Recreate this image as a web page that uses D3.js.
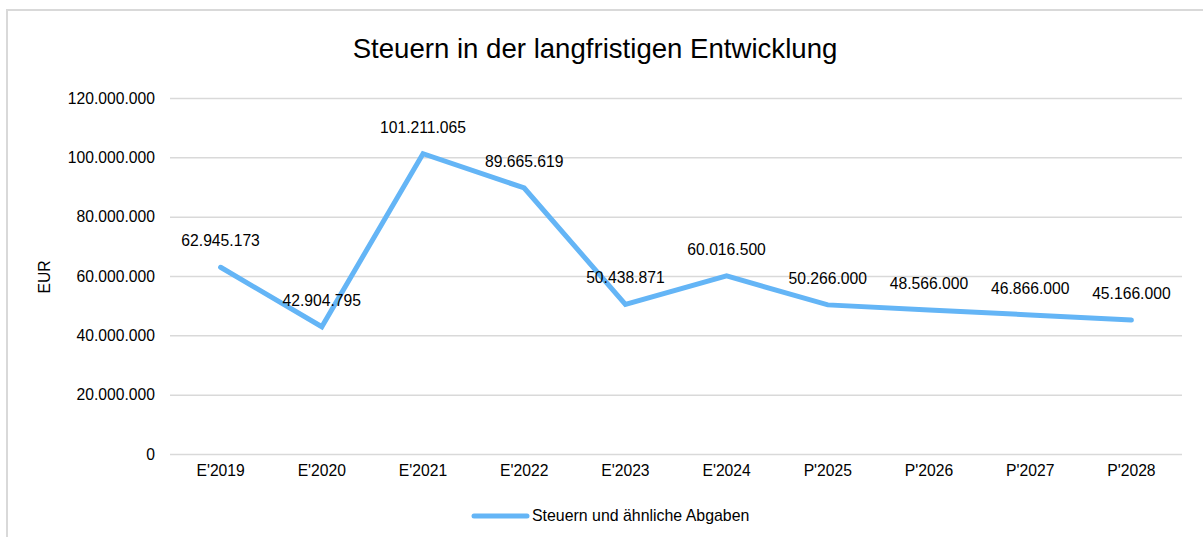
<!DOCTYPE html>
<html><head><meta charset="utf-8">
<script src="https://cdn.jsdelivr.net/npm/d3@7"></script>
<style>body{margin:0;background:#fff}svg{display:block;font-family:"Liberation Sans",Arial,sans-serif}</style>
</head><body><svg id="c" width="1203" height="537"></svg>
<script>
const title = "Steuern in der langfristigen Entwicklung";
const categories = ["E'2019","E'2020","E'2021","E'2022","E'2023","E'2024","P'2025","P'2026","P'2027","P'2028"];
const values = [62945173, 42904795, 101211065, 89665619, 50438871, 60016500, 50266000, 48566000, 46866000, 45166000];
const yTicks = [0, 20000000, 40000000, 60000000, 80000000, 100000000, 120000000];
const seriesName = "Steuern und ähnliche Abgaben";
const yLabel = "EUR";

const svg = d3.select("#c");
const color = "#64b5f6";
const fs = 15.7;
const fmt = v => d3.format(",")(v).replace(/,/g, ".");

svg.append("rect").attr("x",7).attr("y",10).attr("width",1210).attr("height",540)
  .attr("fill","#fff").attr("stroke","#d9d9d9").attr("stroke-width",2);

const L = 170, R = 1182, T = 98, B = 454;
const x = d3.scaleBand().domain(categories).range([L, R]);
const y = d3.scaleLinear().domain([0, 120000000]).range([B, T]);

svg.append("text").attr("x", 595).attr("y", 58).attr("text-anchor","middle")
  .attr("font-size", 27.6).attr("fill","#000").text(title);

const yAxis = svg.append("g").attr("transform",`translate(${L},0)`)
  .call(d3.axisLeft(y).tickValues(yTicks).tickFormat(fmt).tickSize(-(R-L)).tickPadding(15));
yAxis.select(".domain").remove();
yAxis.selectAll(".tick line").attr("stroke","#d9d9d9").attr("stroke-width",1.5);
yAxis.selectAll(".tick text").attr("font-size",fs).attr("fill","#000").attr("font-family","Liberation Sans, Arial, sans-serif");

const xAxis = svg.append("g").attr("transform",`translate(0,${B})`)
  .call(d3.axisBottom(x).tickSize(0).tickPadding(11));
xAxis.select(".domain").remove();
xAxis.selectAll(".tick text").attr("font-size",fs).attr("fill","#000").attr("font-family","Liberation Sans, Arial, sans-serif");

svg.append("text").attr("transform",`translate(50,277) rotate(-90)`).attr("text-anchor","middle")
  .attr("font-size",fs).attr("fill","#000").text(yLabel);

const line = d3.line().x((d,i)=>x(categories[i]) + x.bandwidth()/2).y(d=>y(d));
svg.append("path").datum(values).attr("d", line).attr("fill","none")
  .attr("stroke", color).attr("stroke-width", 5).attr("stroke-linejoin","miter").attr("stroke-linecap","round");

svg.append("g").selectAll("text").data(values).join("text")
  .attr("x",(d,i)=>x(categories[i]) + x.bandwidth()/2)
  .attr("y", d=>y(d) - 21)
  .attr("text-anchor","middle").attr("font-size",fs).attr("fill","#000")
  .text(d=>fmt(d));

const lg = svg.append("g");
lg.append("line").attr("x1",474).attr("x2",527).attr("y1",516).attr("y2",516)
  .attr("stroke",color).attr("stroke-width",5).attr("stroke-linecap","round");
lg.append("text").attr("x",532).attr("y",521).attr("font-size",15.9).attr("fill","#000").text(seriesName);
</script></body></html>
